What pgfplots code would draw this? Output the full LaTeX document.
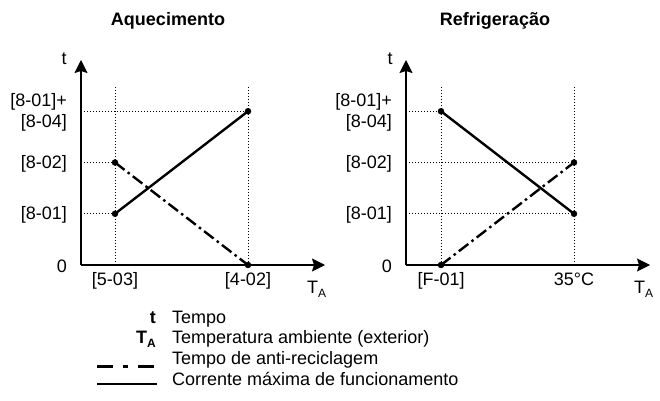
\documentclass[border=0pt]{standalone}
\usepackage{fontspec}
\setmainfont{Liberation Sans}
\usepackage{pgfplots}
\pgfplotsset{compat=1.18}
\usetikzlibrary{arrows.meta}
\pgfplotsset{
  diag/.style={
    anchor=south west, scale only axis,
    width=244bp, height=205bp,
    xmin=0, xmax=244, ymin=0, ymax=4,
    axis lines=left,
    axis line style={line width=1.4bp, -{Stealth[length=13bp,width=13bp,inset=2bp]}},
    ytick={0,1,2,3},
    yticklabels={{0},{[8-01]},{[8-02]},{[8-01]+\\{}[8-04]}},
    major tick length=0pt,
    clip=false,
    xticklabel style={anchor=base, inner sep=0pt, yshift=-20.5bp},
    yticklabel style={anchor=east, inner sep=0pt, xshift=-14bp, yshift=-1.5bp, align=right,
      font=\fontsize{18bp}{21bp}\selectfont},
  },
  guide/.style={black, line width=1bp, dash pattern=on 1.3bp off 1.7bp},
  main/.style={black, line width=2.4bp, mark=*, mark size=3bp, mark options={solid, line width=0.4bp}},
  anti/.style={black, line width=2.4bp, dash pattern=on 12bp off 4bp on 2.5bp off 4bp,
    mark=*, mark size=3bp, mark options={solid, line width=0.4bp}},
}
\begin{document}
\fontsize{18bp}{21bp}\selectfont
\begin{tikzpicture}[x=1bp,y=1bp]
\path[use as bounding box] (0,0) rectangle (660,400);
% Aquecimento
\begin{axis}[diag, at={(81bp,135bp)},
  xtick={34,167}, xticklabels={{[5-03]},{[4-02]}}]
\addplot[guide] coordinates {(0,1) (34,1)};
\addplot[guide] coordinates {(0,2) (34,2)};
\addplot[guide] coordinates {(0,3) (167,3)};
\addplot[guide] coordinates {(34,0) (34,3.5)};
\addplot[guide] coordinates {(167,0) (167,3.5)};
\addplot[main] coordinates {(34,1) (167,3)};
\addplot[anti] coordinates {(34,2) (167,0)};
\end{axis}
% Refrigeracao
\begin{axis}[diag, at={(406bp,135bp)},
  xtick={35,168}, xticklabels={{[F-01]},{35°C}}]
\addplot[guide] coordinates {(0,3) (35,3)};
\addplot[guide] coordinates {(0,2) (168,2)};
\addplot[guide] coordinates {(0,1) (168,1)};
\addplot[guide] coordinates {(35,0) (35,3.5)};
\addplot[guide] coordinates {(168,0) (168,3.5)};
\addplot[main] coordinates {(35,3) (168,1)};
\addplot[anti] coordinates {(35,0) (168,2)};
\end{axis}
% titles and axis labels
\node[anchor=base] at (168,375) {\textbf{Aquecimento}};
\node[anchor=base] at (495,375) {\textbf{Refrigeração}};
\node[anchor=base, inner sep=0pt] at (64,336) {t};
\node[anchor=base, inner sep=0pt] at (390,336) {t};
\node[anchor=base west, inner sep=0pt] at (307,107) {T\raisebox{-4.5bp}{\fontsize{12bp}{12bp}\selectfont A}};
\node[anchor=base west, inner sep=0pt] at (634,107) {T\raisebox{-4.5bp}{\fontsize{12bp}{12bp}\selectfont A}};
% legend
\node[anchor=base east, inner sep=0pt] at (156,77) {\textbf{t}};
\node[anchor=base west, inner sep=0pt] at (172,77) {Tempo};
\node[anchor=base east, inner sep=0pt] at (156,57) {\textbf{T\raisebox{-4.5bp}{\fontsize{12bp}{12bp}\selectfont A}}};
\node[anchor=base west, inner sep=0pt] at (172,57) {Temperatura ambiente (exterior)};
\draw[black, line width=3bp, dash pattern=on 16bp off 10bp on 5bp off 10bp] (97,34) -- (157,34);
\node[anchor=base west, inner sep=0pt] at (172,36) {Tempo de anti-reciclagem};
\draw[black, line width=2.7bp] (97,16) -- (157,16);
\node[anchor=base west, inner sep=0pt] at (172,15) {Corrente máxima de funcionamento};
\end{tikzpicture}
\end{document}
